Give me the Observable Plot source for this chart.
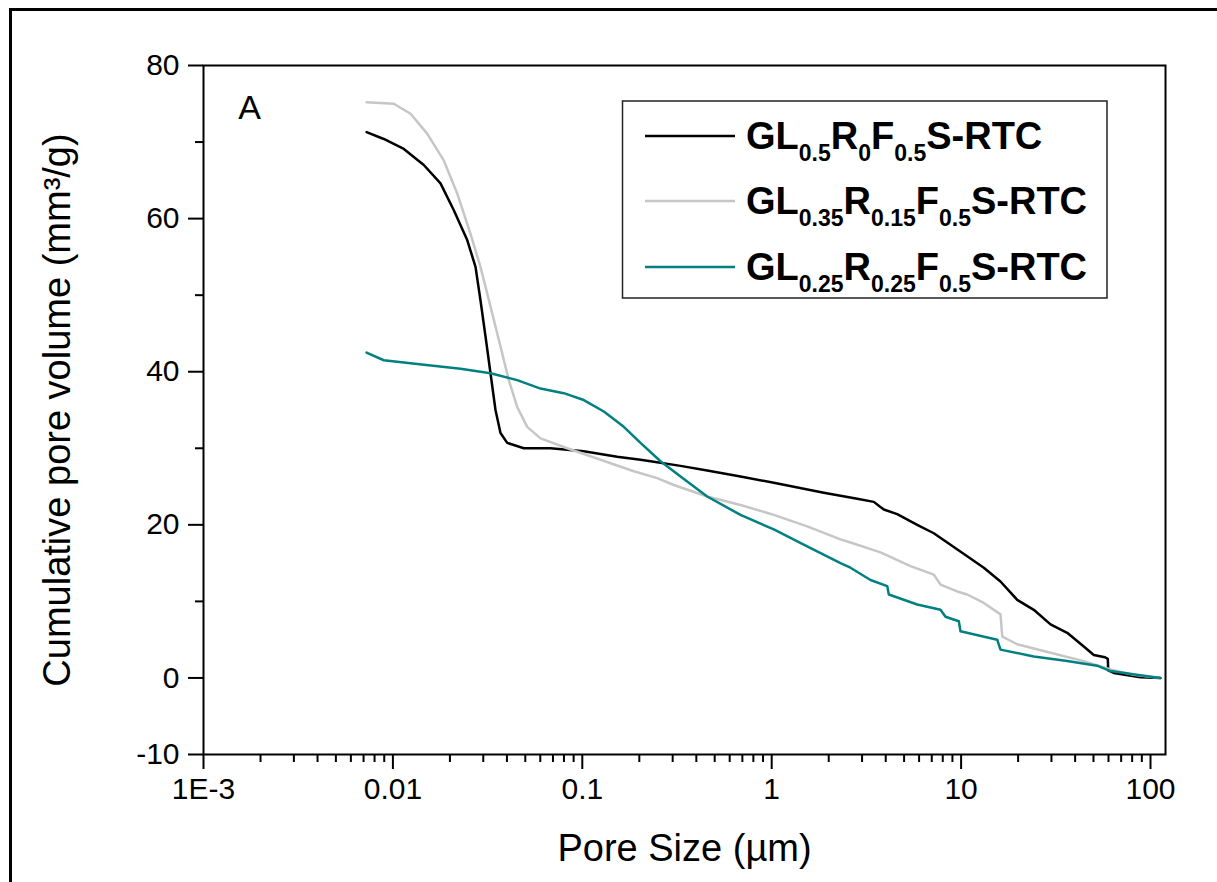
<!DOCTYPE html>
<html>
<head>
<meta charset="utf-8">
<script src="https://cdn.jsdelivr.net/npm/d3@7"></script>
<script src="https://cdn.jsdelivr.net/npm/@observablehq/plot@0.6"></script>
<style>
  body { margin: 0; background: #fff; }
  #wrap { position: relative; width: 1217px; height: 882px; overflow: hidden; background: #fff; }
</style>
</head>
<body>
<div id="wrap"></div>
<script>
// ---------- data ----------
const seriesNames = ["GL_{0.5}R_{0}F_{0.5}S-RTC", "GL_{0.35}R_{0.15}F_{0.5}S-RTC", "GL_{0.25}R_{0.25}F_{0.5}S-RTC"];
const seriesColors = ["#000000", "#c6c6c6", "#008080"];

const blackSize = [0.00726,0.00895,0.01142,0.01456,0.01784,0.02097,0.02468,0.02730,0.02901,0.03083,0.03276,0.03481,0.03699,0.04013,0.04911,0.06794,0.1018,0.1528,0.2029,0.2292,0.3301,0.4565,0.6843,1.026,1.884,2.828,3.461,3.722,3.908,4.598,5.866,7.176,8.790,10.77,13.18,16.14,19.78,24.20,29.65,36.33,44.44,50.19,57.5,59.5,59.8,64.0,88.56,112.9];
const blackVolume = [71.3,70.4,69.1,67.0,64.6,61.1,57.2,53.7,49.3,44.6,39.8,35.0,32.0,30.7,30.0,30.0,29.6,28.9,28.5,28.3,27.7,27.1,26.3,25.5,24.2,23.4,23.0,22.4,22.0,21.4,20.0,18.9,17.4,15.9,14.4,12.6,10.2,8.9,7.0,5.9,4.1,3.0,2.7,2.5,1.0,0.65,0.1,0.0];

const graySize = [0.00726,0.01011,0.01239,0.01517,0.01856,0.02185,0.02569,0.02901,0.03276,0.03699,0.04091,0.04532,0.05118,0.06015,0.08324,0.1248,0.1870,0.2486,0.3042,0.4565,0.6843,1.026,1.539,2.308,2.606,3.753,5.405,7.176,7.785,9.537,10.77,13.18,16.14,16.50,19.78,29.65,44.44,61.49,81.62,112.9];
const grayVolume = [75.2,75.0,73.7,71.1,67.6,63.3,58.0,53.7,48.5,43.3,38.9,35.4,32.8,31.3,30.0,28.5,27.0,26.1,25.2,23.7,22.6,21.3,19.8,18.1,17.7,16.4,14.6,13.5,12.2,11.3,10.9,9.8,8.3,5.4,4.4,3.3,2.2,1.1,0.4,0.0];

const tealSize = [0.00726,0.00895,0.01344,0.02275,0.03276,0.04532,0.06015,0.07985,0.1018,0.1299,0.1656,0.2029,0.2588,0.3301,0.4565,0.6843,1.026,1.539,2.308,2.606,3.324,4.073,4.153,5.866,7.785,8.272,9.725,9.927,15.51,16.14,24.20,36.33,52.32,61.49,92.18,112.9];
const tealVolume = [42.5,41.5,41.0,40.4,39.8,38.9,37.8,37.2,36.3,34.8,32.8,30.7,28.3,26.3,23.7,21.3,19.4,17.2,15.0,14.4,12.8,12.0,10.9,9.6,8.9,8.0,7.4,6.1,5.0,3.7,2.8,2.2,1.6,0.9,0.3,0.0];

const xTickValues = [0.001, 0.01, 0.1, 1, 10, 100];
const xTickLabels = ["1E-3", "0.01", "0.1", "1", "10", "100"];
const yTickValues = [-10, 0, 20, 40, 60, 80];
const yTickLabels = ["-10", "0", "20", "40", "60", "80"];
const yMinorTicks = [10, 30, 50, 70];
const xMinorTicks = [];
for (let e = -3; e <= 1; e++) for (let m = 2; m <= 9; m++) xMinorTicks.push(+(m * Math.pow(10, e)).toPrecision(3));

const xTitle = "Pore Size (µm)";
const yTitle = "Cumulative pore volume (mm³/g)";
const panelLabel = "A";

// ---------- table ----------
const rows = [];
[[blackSize, blackVolume], [graySize, grayVolume], [tealSize, tealVolume]].forEach(([xs, ys], s) => {
  xs.forEach((x, i) => rows.push({series: seriesNames[s], size: x, volume: ys[i]}));
});

const FONT = '"Liberation Sans", Arial, Helvetica, sans-serif';

const chart = Plot.plot({
  width: 1217,
  height: 882,
  marginLeft: 203,
  marginRight: 52,
  marginTop: 65,
  marginBottom: 128,
  style: {fontFamily: FONT, background: "transparent", color: "#000", overflow: "visible"},
  x: {type: "log", domain: [0.001, 120]},
  y: {domain: [-10, 80]},
  color: {domain: seriesNames, range: seriesColors},
  marks: [
    Plot.line(rows, {x: "size", y: "volume", z: "series", stroke: "series", strokeWidth: 2.5, curve: "linear"}),
    Plot.frame({stroke: "#000", strokeWidth: 2}),
    Plot.axisX({ticks: xTickValues, anchor: "bottom", tickSize: 15, tickPadding: 8, strokeWidth: 2, fontSize: 30,
      tickFormat: d => xTickLabels[xTickValues.indexOf(d)], label: null}),
    Plot.axisX({ticks: xMinorTicks, anchor: "bottom", tickSize: 8, strokeWidth: 2, tickFormat: () => "", label: null}),
    Plot.axisY({ticks: yTickValues, anchor: "left", tickSize: 15, tickPadding: 9, strokeWidth: 2, fontSize: 30,
      tickFormat: d => yTickLabels[yTickValues.indexOf(d)], label: null}),
    Plot.axisY({ticks: yMinorTicks, anchor: "left", tickSize: 8, strokeWidth: 2, tickFormat: () => "", label: null}),
    Plot.text([xTitle], {text: d => d, frameAnchor: "bottom", dy: 94, lineAnchor: "middle", textAnchor: "middle", fontSize: 38, fill: "#000"}),
    Plot.text([yTitle], {text: d => d, frameAnchor: "left", dx: -146, rotate: -90, lineAnchor: "middle", textAnchor: "middle", fontSize: 38, fill: "#000"}),
    Plot.text([panelLabel], {text: d => d, frameAnchor: "top-left", dx: 46, dy: 43, lineAnchor: "middle", textAnchor: "middle", fontSize: 34, fill: "#000"})
  ]
});

document.getElementById("wrap").appendChild(chart);

// ---------- outer border (left & top) ----------
const svg = d3.select(chart);
svg.append("line").attr("x1", 10.5).attr("x2", 10.5).attr("y1", 8).attr("y2", 882).attr("stroke", "#000").attr("stroke-width", 3);
svg.append("line").attr("x1", 9).attr("x2", 1217).attr("y1", 9.5).attr("y2", 9.5).attr("stroke", "#000").attr("stroke-width", 3);

// ---------- legend ----------
const lg = svg.append("g").attr("class", "legend");
lg.append("rect").attr("x", 622.5).attr("y", 101).attr("width", 484.5).attr("height", 197)
  .attr("fill", "#fff").attr("stroke", "#222").attr("stroke-width", 1.5);
const rowY = [136, 201, 267];
seriesNames.forEach((name, i) => {
  lg.append("line").attr("x1", 645).attr("x2", 735).attr("y1", rowY[i]).attr("y2", rowY[i])
    .attr("stroke", seriesColors[i]).attr("stroke-width", 2.5);
  const t = lg.append("text").attr("x", 746).attr("y", rowY[i] + 13)
    .attr("text-anchor", "start")
    .attr("font-family", FONT).attr("font-weight", "bold").attr("font-size", 38).attr("fill", "#000");
  const parts = name.split(/(_\{[^}]*\})/).filter(p => p.length);
  let lowered = false;
  parts.forEach(p => {
    if (p.startsWith("_{")) {
      t.append("tspan").attr("dy", lowered ? 0 : 12).attr("font-size", 23).text(p.slice(2, -1));
      lowered = true;
    } else {
      t.append("tspan").attr("dy", lowered ? -12 : 0).text(p);
      lowered = false;
    }
  });
});
</script>
</body>
</html>
